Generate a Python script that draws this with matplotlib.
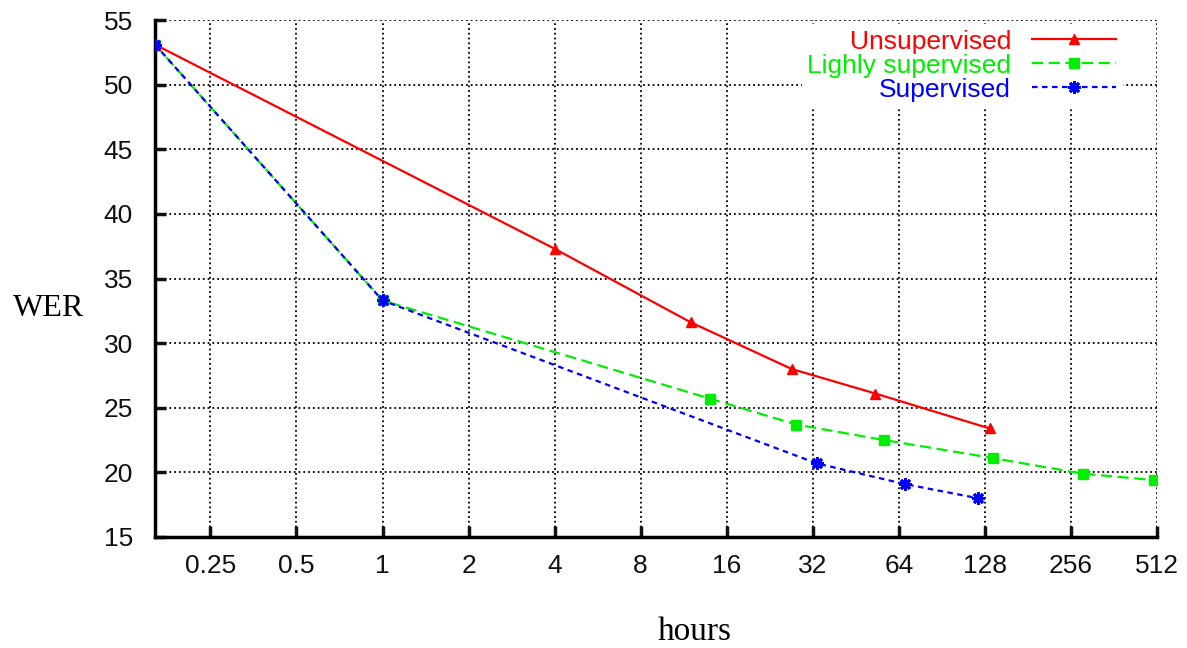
import matplotlib.pyplot as plt

# WER vs training hours (log2 x axis)
unsup_hours = [0.16, 4, 12, 27, 53, 133]
unsup_wer = [53.1, 37.3, 31.6, 28.0, 26.1, 23.4]

light_hours = [0.16, 1, 14, 28, 57, 137, 282, 500]
light_wer = [53.1, 33.3, 25.7, 23.7, 22.5, 21.1, 19.9, 19.4]

sup_hours = [0.16, 1, 33, 67, 121]
sup_wer = [53.1, 33.3, 20.7, 19.1, 18.0]

xticks = [0.25, 0.5, 1, 2, 4, 8, 16, 32, 64, 128, 256, 512]
xtick_labels = ['0.25', '0.5', '1', '2', '4', '8', '16', '32', '64', '128', '256', '512']
yticks = [15, 20, 25, 30, 35, 40, 45, 50, 55]

fig = plt.figure(figsize=(11.87, 6.48), dpi=100)
ax = fig.add_axes([0.1306, 0.1713, 0.8441, 0.7978])

ax.plot(unsup_hours, unsup_wer, color='#ff0000', lw=1.6, ls='-',
        marker='^', ms=7, label='Unsupervised', zorder=3)
ax.plot(light_hours, light_wer, color='#00ee00', lw=1.6, ls=(0, (5, 2.5)),
        marker='s', ms=7, label='Lighly supervised', zorder=2)
ax.plot(sup_hours, sup_wer, color='#0000ff', lw=1.6, ls=(0, (2.5, 2)),
        marker=(8, 2, 0), ms=9, mew=2, label='Supervised', zorder=4)

ax.set_xscale('log', base=2)
ax.set_xlim(0.16, 512)
ax.set_ylim(15, 55)
ax.set_xticks(xticks)
ax.set_xticklabels(xtick_labels)
ax.set_yticks(yticks)
ax.minorticks_off()

ax.grid(True, color='black', ls=':', lw=1.3)
ax.set_axisbelow(True)

for s in ['top', 'right']:
    ax.spines[s].set_visible(False)
for s in ['left', 'bottom']:
    ax.spines[s].set_linewidth(2.5)

ax.tick_params(direction='in', length=8, width=2.5, labelsize=19, pad=12,
               labelfontfamily='Liberation Sans', colors='#111111')
ax.tick_params(axis='y', pad=37)
for lbl in ax.get_yticklabels():
    lbl.set_horizontalalignment('left')

fig.text(0.041, 0.524, 'WER', fontsize=23, family='Liberation Serif',
         ha='center', va='center')
fig.text(0.585, 0.025, 'hours', fontsize=24, family='Liberation Serif',
         ha='center', va='center')

leg = ax.legend(loc='upper right', bbox_to_anchor=(0.978, 1.017), frameon=True,
                markerfirst=False, handlelength=3.2, labelspacing=0.0,
                prop={'family': 'Liberation Sans', 'size': 19},
                borderpad=0.2, handletextpad=0.8)
leg.get_frame().set_edgecolor('white')
leg.get_frame().set_facecolor('white')
leg.get_frame().set_alpha(1)
for txt, c in zip(leg.get_texts(), ['#ff0000', '#00ee00', '#0000ff']):
    txt.set_color(c)
    txt.set_horizontalalignment('right')

fig.savefig('out.png', dpi=100)
